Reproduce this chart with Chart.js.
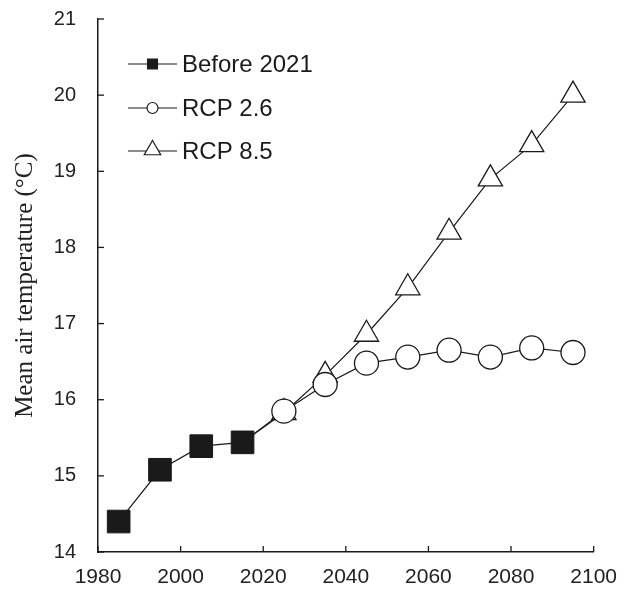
<!DOCTYPE html>
<html lang="en">
<head>
    <meta charset="UTF-8">
    <title>Mean air temperature</title>
    <script src="https://cdn.jsdelivr.net/npm/chart.js@4/dist/chart.umd.min.js"></script>
    <style>
        body { margin: 0; background: #fff; }
        #wrap { width: 630px; height: 589px; }
    </style>
</head>
<body>
    <div id="wrap"><canvas id="myChart" width="630" height="589"></canvas></div>

    <script>
        // years and values
        const pastYears = [1985, 1995, 2005, 2015];
        const pastTemp = [14.4, 15.08, 15.39, 15.44];

        // projections start from the 2015 value (joined with a line, no marker)
        const futureYears = [2015, 2025, 2035, 2045, 2055, 2065, 2075, 2085, 2095];
        const rcp26 = [15.44, 15.85, 16.2, 16.48, 16.56, 16.65, 16.56, 16.68, 16.62];
        const rcp85 = [15.44, 15.83, 16.32, 16.86, 17.47, 18.2, 18.9, 19.35, 20.0];

        const seriesNames = ['Before 2021', 'RCP 2.6', 'RCP 8.5'];

        function toPoints(xs, ys) {
            return xs.map((x, i) => ({ x: x, y: ys[i] }));
        }
        // hide the marker on the joining point
        function radii(xs, r) {
            return xs.map((x, i) => i === 0 ? 0 : r);
        }

        const ink = '#1a1a1a';
        const sans = '"Liberation Sans", Arial, sans-serif';

        // ticks pointing into the plot, as in the figure
        const innerTicks = {
            id: 'innerTicks',
            afterDatasetsDraw(chart) {
                const ctx = chart.ctx;
                const xs = chart.scales.x, ys = chart.scales.y;
                ctx.save();
                ctx.strokeStyle = ink;
                ctx.lineWidth = 1.3;
                xs.ticks.forEach(t => {
                    const px = xs.getPixelForValue(t.value);
                    ctx.beginPath();
                    ctx.moveTo(px, ys.bottom);
                    ctx.lineTo(px, ys.bottom - 6);
                    ctx.stroke();
                });
                ys.ticks.forEach(t => {
                    const py = ys.getPixelForValue(t.value);
                    ctx.beginPath();
                    ctx.moveTo(xs.left, py);
                    ctx.lineTo(xs.left + 6, py);
                    ctx.stroke();
                });
                ctx.restore();
            }
        };

        // legend like the original: line - marker - line, then the name
        const lineLegend = {
            id: 'lineLegend',
            afterDraw(chart) {
                const ctx = chart.ctx;
                const x0 = 128, x1 = 177, rowY = [64, 108, 151];
                const legendStyles = [
                    { pointStyle: 'rect', radius: 7, fill: ink },
                    { pointStyle: 'circle', radius: 5.5, fill: '#fff' },
                    { pointStyle: 'triangle', radius: 9.5, fill: '#fff' }
                ];
                ctx.save();
                chart.data.datasets.forEach((ds, i) => {
                    const y = rowY[i];
                    ctx.strokeStyle = ink;
                    ctx.lineWidth = 1.2;
                    ctx.beginPath();
                    ctx.moveTo(x0, y);
                    ctx.lineTo(x1, y);
                    ctx.stroke();
                    ctx.fillStyle = legendStyles[i].fill;
                    Chart.helpers.drawPoint(ctx, {
                        pointStyle: legendStyles[i].pointStyle,
                        radius: legendStyles[i].radius,
                        rotation: 0,
                        borderWidth: 1.2
                    }, (x0 + x1) / 2, i === 2 ? y - 1 : y);
                    ctx.fillStyle = ink;
                    ctx.font = '24px ' + sans;
                    ctx.textBaseline = 'middle';
                    ctx.fillText(ds.label, x1 + 5, y + 1);
                });
                ctx.restore();
            }
        };

        new Chart(document.getElementById('myChart'), {
            type: 'line',
            data: {
                datasets: [
                    {
                        label: seriesNames[0],
                        data: toPoints(pastYears, pastTemp),
                        borderColor: ink,
                        borderWidth: 1.2,
                        pointStyle: 'rect',
                        pointRadius: 16,
                        pointBackgroundColor: ink,
                        pointBorderColor: ink,
                        pointBorderWidth: 1
                    },
                    {
                        label: seriesNames[1],
                        data: toPoints(futureYears, rcp26),
                        borderColor: ink,
                        borderWidth: 1.2,
                        pointStyle: 'circle',
                        pointRadius: radii(futureYears, 12),
                        pointBackgroundColor: '#fff',
                        pointBorderColor: ink,
                        pointBorderWidth: 1.3
                    },
                    {
                        label: seriesNames[2],
                        data: toPoints(futureYears, rcp85),
                        borderColor: ink,
                        borderWidth: 1.2,
                        pointStyle: 'triangle',
                        pointRadius: radii(futureYears, 14),
                        pointBackgroundColor: '#fff',
                        pointBorderColor: ink,
                        pointBorderWidth: 1.3
                    }
                ]
            },
            options: {
                responsive: false,
                animation: false,
                layout: { padding: { top: 0, right: 36, left: 0, bottom: 0 } },
                plugins: {
                    legend: { display: false },
                    tooltip: { enabled: false }
                },
                scales: {
                    x: {
                        type: 'linear',
                        min: 1980,
                        max: 2100,
                        afterFit(s) { s.height = 37; },
                        ticks: {
                            stepSize: 20,
                            padding: 13,
                            color: '#222',
                            maxRotation: 0,
                            font: { family: sans, size: 21 },
                            callback: v => String(v)
                        },
                        grid: { drawOnChartArea: false, drawTicks: false },
                        border: { display: true, color: ink, width: 1.5 }
                    },
                    y: {
                        min: 14,
                        max: 21,
                        afterFit(s) { s.width = 98; },
                        ticks: {
                            stepSize: 1,
                            padding: 7,
                            color: '#222',
                            font: { family: sans, size: 20 }
                        },
                        // invisible tick marks only push the labels away from the axis
                        grid: { drawOnChartArea: false, drawTicks: true, tickLength: 15, tickColor: 'rgba(0,0,0,0)' },
                        border: { display: true, color: ink, width: 1.5 },
                        title: {
                            display: true,
                            text: 'Mean air temperature (\u00b0C)',
                            color: '#222',
                            padding: { top: 10, bottom: 0 },
                            font: { family: '"Liberation Serif", "Times New Roman", serif', size: 25 }
                        }
                    }
                }
            },
            plugins: [innerTicks, lineLegend]
        });
    </script>
</body>
</html>
